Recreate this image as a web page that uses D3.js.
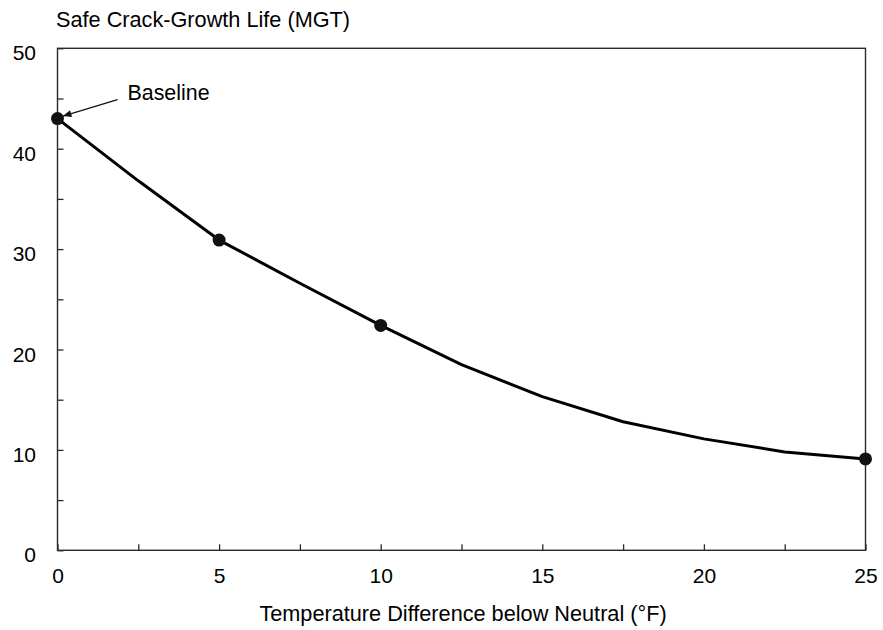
<!DOCTYPE html>
<html>
<head>
<meta charset="utf-8">
<script src="https://cdn.jsdelivr.net/npm/d3@7/dist/d3.min.js"></script>
<style>
  html, body { margin: 0; padding: 0; background: #fff; }
  svg { display: block; }
  text { font-family: "Liberation Sans", Arial, Helvetica, sans-serif; fill: #000; }
</style>
</head>
<body>
<div id="chart"></div>
<script>
// ---- Data ----
const tempDiff = [0, 2.5, 5, 7.5, 10, 12.5, 15, 17.5, 20, 22.5, 25];
const crackLife = [43.0, 36.8, 30.9, 26.6, 22.4, 18.5, 15.3, 12.8, 11.1, 9.8, 9.1];
const markedTemps = [0, 5, 10, 25];
const xTickLabels = [0, 5, 10, 15, 20, 25];
const xMinorTicks = [0, 2.5, 5, 7.5, 10, 12.5, 15, 17.5, 20, 22.5, 25];
const yTickLabels = [0, 10, 20, 30, 40, 50];
const yMinorTicks = [0, 5, 10, 15, 20, 25, 30, 35, 40, 45, 50];
const yTitle = "Safe Crack-Growth Life (MGT)";
const xTitle = "Temperature Difference below Neutral (°F)";
const annotationText = "Baseline";

// ---- Layout ----
const W = 883, H = 630;
const mLeft = 57.5, mRight = 865.5, mTop = 48.3, mBottom = 550.3;

const svg = d3.select("#chart").append("svg")
  .attr("width", W).attr("height", H);

const x = d3.scaleLinear().domain([0, 25]).range([mLeft, mRight]);
const y = d3.scaleLinear().domain([0, 50]).range([mBottom, mTop]);

const axisColor = "#2a2a2a";

// inward ticks
const gx = svg.append("g").attr("transform", `translate(0,${mBottom})`)
  .call(d3.axisBottom(x).tickValues(xMinorTicks).tickSize(-6).tickFormat(""));
gx.select(".domain").remove();
gx.selectAll("line").attr("stroke", axisColor).attr("stroke-width", 1.3);

const gy = svg.append("g").attr("transform", `translate(${mLeft},0)`)
  .call(d3.axisLeft(y).tickValues(yMinorTicks).tickSize(-6).tickFormat(""));
gy.select(".domain").remove();
gy.selectAll("line").attr("stroke", axisColor).attr("stroke-width", 1.3);

// tick labels
const gxl = svg.append("g").attr("transform", `translate(0,${mBottom})`)
  .call(d3.axisBottom(x).tickValues(xTickLabels).tickSize(0).tickPadding(0).tickFormat(d3.format("d")));
gxl.select(".domain").remove();
gxl.selectAll("text").attr("y", 33).attr("dy", null)
  .style("font-size", "21px").attr("font-family", null);

const gyl = svg.append("g").attr("transform", `translate(${mLeft},0)`)
  .call(d3.axisLeft(y).tickValues(yTickLabels).tickSize(0).tickPadding(0).tickFormat(d3.format("d")));
gyl.select(".domain").remove();
gyl.selectAll("text").attr("x", -21.5).attr("dy", "11.6px")
  .style("font-size", "21px").attr("font-family", null);

// frame
svg.append("rect")
  .attr("x", mLeft).attr("y", mTop)
  .attr("width", mRight - mLeft).attr("height", mBottom - mTop)
  .attr("fill", "none").attr("stroke", axisColor).attr("stroke-width", 1.4);

// line
const pts = tempDiff.map((t, i) => ({ t, v: crackLife[i] }));
svg.append("path")
  .datum(pts)
  .attr("fill", "none")
  .attr("stroke", "#000")
  .attr("stroke-width", 3)
  .attr("stroke-linejoin", "round")
  .attr("d", d3.line().x(d => x(d.t)).y(d => y(d.v)));

// markers
svg.append("g").selectAll("circle")
  .data(pts.filter(d => markedTemps.includes(d.t)))
  .join("circle")
  .attr("cx", d => x(d.t)).attr("cy", d => y(d.v))
  .attr("r", 6.5).attr("fill", "#111");

// annotation
const defs = svg.append("defs");
defs.append("marker")
  .attr("id", "arrow").attr("viewBox", "0 0 12 10")
  .attr("refX", 12).attr("refY", 5)
  .attr("markerWidth", 12).attr("markerHeight", 7)
  .attr("markerUnits", "userSpaceOnUse")
  .attr("orient", "auto")
  .append("path").attr("d", "M0,0 L12,5 L0,10 Z").attr("fill", "#111");

const bx = x(0), by = y(crackLife[0]);
svg.append("line")
  .attr("x1", bx + 60).attr("y1", by - 19)
  .attr("x2", bx + 5.5).attr("y2", by - 2.5)
  .attr("stroke", "#111").attr("stroke-width", 1.2)
  .attr("marker-end", "url(#arrow)");
svg.append("text")
  .attr("x", bx + 70).attr("y", by - 19)
  .style("font-size", "21.4px")
  .text(annotationText);

// titles
svg.append("text")
  .attr("x", 56).attr("y", 26.5)
  .style("font-size", "21.7px")
  .text(yTitle);

svg.append("text")
  .attr("x", (mLeft + mRight) / 2 + 1.5).attr("y", 621)
  .attr("text-anchor", "middle")
  .style("font-size", "21.7px")
  .text(xTitle);
</script>
</body>
</html>
